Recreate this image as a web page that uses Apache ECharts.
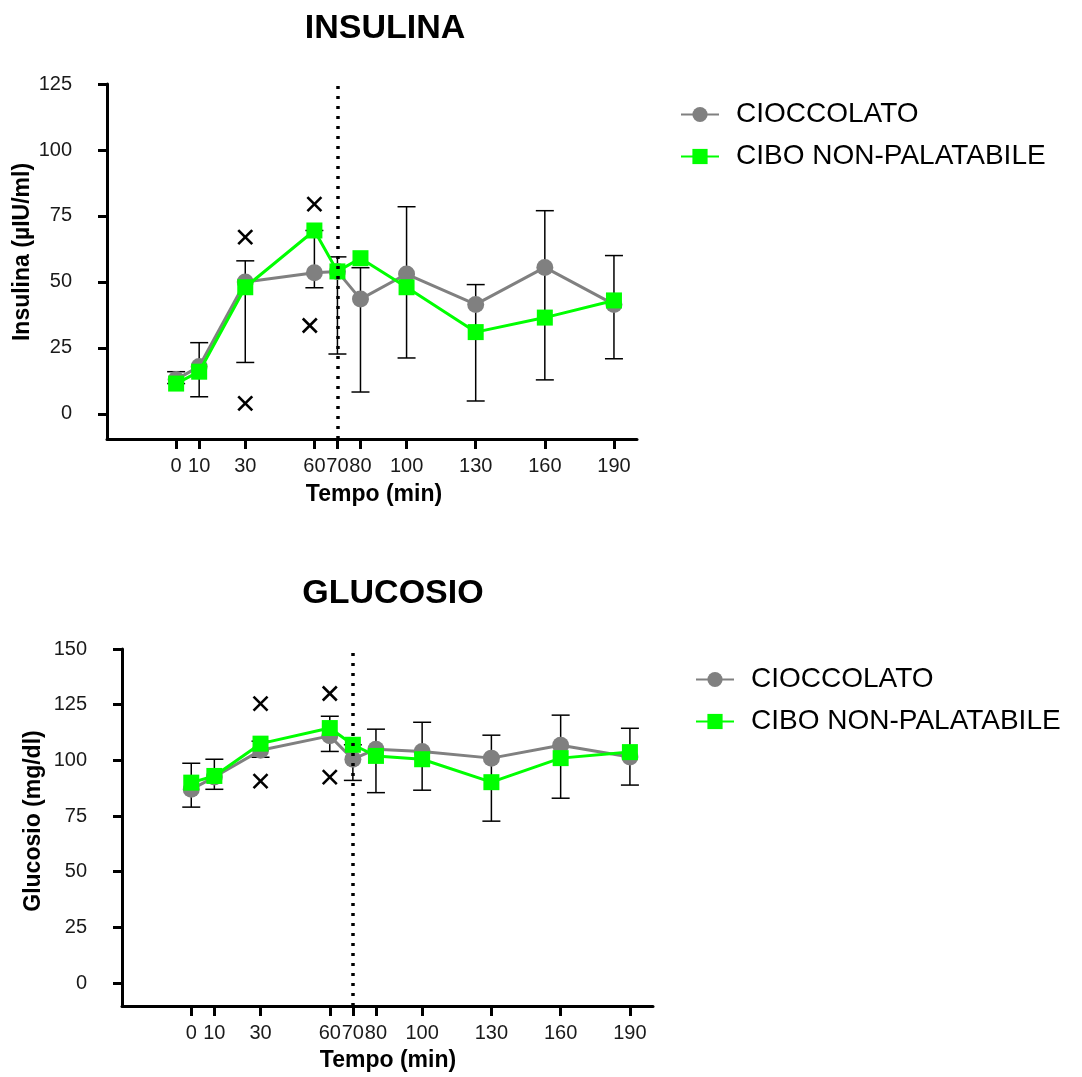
<!DOCTYPE html>
<html>
<head>
<meta charset="utf-8">
<title>Insulina e Glucosio</title>
<script src="https://cdn.jsdelivr.net/npm/echarts@6/dist/echarts.min.js"></script>
<style>
  html, body { margin: 0; padding: 0; background: #fff; }
  #chart { width: 1082px; height: 1077px; }
</style>
</head>
<body>
<div id="chart"></div>
<script>
// Sampling times (min)
const times = [0, 10, 30, 60, 70, 80, 100, 130, 160, 190];
const seriesNames = ['CIOCCOLATO', 'CIBO NON-PALATABILE'];

// Insulina (µIU/ml)
const insCioccolato = [13, 18, 50, 53.5, 54, 43.5, 53, 41.5, 55.5, 41.5];
const insCibo = [11.5, 16, 48, 69.5, 54, 59, 48, 31, 36.5, 43];
const insErrLow = [11.5, 6.5, 19.5, 47.8, 22.7, 8.3, 21.2, 4.9, 12.9, 20.9];
const insErrHigh = [16, 27, 58, 69.5, 59.5, 55.4, 78.5, 49, 77, 60];
const insMarksX = [30, 30, 60, 58];
const insMarksY = [67, 4, 79.5, 33.5];
const insTicks = [0, 25, 50, 75, 100, 125];

// Glucosio (mg/dl)
const gluCioccolato = [87, 92.5, 104.5, 111, 100.5, 105, 104, 101, 106.8, 101.5];
const gluCibo = [90, 93, 107.5, 114.5, 107, 102, 100.5, 90.2, 101, 103.7];
const gluErrLow = [79, 87, 101.4, 104, 91, 85.5, 86.6, 72.7, 83, 88.9];
const gluErrHigh = [98.7, 100.5, 108.6, 119.8, 107, 114, 117.1, 111.3, 120.3, 114.4];
const gluMarksX = [30, 30, 60, 60];
const gluMarksY = [125.5, 90.7, 130, 92.5];
const gluTicks = [0, 25, 50, 75, 100, 125, 150];

// Time of the meal switch
const switchTime = 70;

const FONT = '"Liberation Sans", Arial, Helvetica, sans-serif';
const GRAY = '#808080';
const GREEN = '#00ff00';

const zip = (xs, ys) => xs.map((x, i) => [x, ys[i]]);
const zip3 = (xs, a, b) => xs.map((x, i) => [x, a[i], b[i]]);

function errorBarSeries(gi, data) {
  return {
    type: 'custom', xAxisIndex: gi, yAxisIndex: gi, z: 1, silent: true,
    data: data,
    renderItem: function (params, api) {
      const x = api.value(0);
      const lo = api.coord([x, api.value(1)]);
      const hi = api.coord([x, api.value(2)]);
      const w = 9;
      const st = { stroke: '#000', lineWidth: 1.5 };
      return {
        type: 'group',
        children: [
          { type: 'line', shape: { x1: lo[0], y1: lo[1], x2: hi[0], y2: hi[1] }, style: st },
          { type: 'line', shape: { x1: lo[0] - w, y1: lo[1], x2: lo[0] + w, y2: lo[1] }, style: st },
          { type: 'line', shape: { x1: hi[0] - w, y1: hi[1], x2: hi[0] + w, y2: hi[1] }, style: st }
        ]
      };
    }
  };
}

function crossSeries(gi, data) {
  return {
    type: 'custom', xAxisIndex: gi, yAxisIndex: gi, z: 4, silent: true,
    data: data,
    renderItem: function (params, api) {
      const p = api.coord([api.value(0), api.value(1)]);
      const h = 7;
      const st = { stroke: '#000', lineWidth: 2.6 };
      return {
        type: 'group',
        children: [
          { type: 'line', shape: { x1: p[0] - h, y1: p[1] - h, x2: p[0] + h, y2: p[1] + h }, style: st },
          { type: 'line', shape: { x1: p[0] - h, y1: p[1] + h, x2: p[0] + h, y2: p[1] - h }, style: st }
        ]
      };
    }
  };
}

function lineSeries(gi, name, data, color, symbol, withSwitch) {
  const s = {
    type: 'line', name: name, xAxisIndex: gi, yAxisIndex: gi,
    data: data, z: name === seriesNames[0] ? 2 : 3,
    symbol: symbol, symbolSize: symbol === 'rect' ? 16 : 17,
    lineStyle: { color: color, width: 3 },
    itemStyle: { color: color, borderWidth: 0 },
    emphasis: { disabled: true }
  };
  if (withSwitch) {
    s.markLine = {
      silent: true, symbol: 'none', label: { show: false },
      lineStyle: { color: '#000', width: 3.5, type: [3, 7], cap: 'butt' },
      data: [{ xAxis: switchTime }]
    };
  }
  return s;
}

function xAxisCfg(gi) {
  return {
    gridIndex: gi, type: 'value', min: -30, max: 200,
    axisLine: { show: true, onZero: false, lineStyle: { color: '#000', width: 3 } },
    axisTick: { show: true, customValues: times, length: 10, lineStyle: { color: '#000', width: 3 } },
    axisLabel: { customValues: times, margin: 17, color: '#1a1a1a', fontSize: 20, fontFamily: FONT },
    splitLine: { show: false }
  };
}

function yAxisCfg(gi, min, max, ticks) {
  return {
    gridIndex: gi, type: 'value', min: min, max: max,
    axisLine: { show: true, onZero: false, lineStyle: { color: '#000', width: 3 } },
    axisTick: { show: true, customValues: ticks, length: 9, lineStyle: { color: '#000', width: 3 } },
    axisLabel: { customValues: ticks, margin: 35, color: '#1a1a1a', fontSize: 20, fontFamily: FONT,
                 padding: [0, 0, 8, 0] },
    splitLine: { show: false }
  };
}

function legendCfg(left, top) {
  return {
    left: left, top: top, orient: 'vertical',
    data: seriesNames, itemWidth: 38, itemHeight: 19, itemGap: 13,
    selectedMode: false,
    textStyle: { fontSize: 28, fontFamily: FONT, color: '#000', lineHeight: 29, padding: [0, 0, 0, 12] }
  };
}

function label(text, x, y, size, rot) {
  return {
    type: 'text', x: x, y: y, rotation: rot || 0, silent: true,
    style: { text: text, font: 'bold ' + size + 'px ' + FONT, fill: '#000',
             textAlign: 'center', textVerticalAlign: 'middle' }
  };
}

const chart = echarts.init(document.getElementById('chart'), null, { renderer: 'canvas' });
chart.setOption({
  animation: false,
  backgroundColor: '#fff',
  grid: [
    { left: 107, top: 84, width: 530, height: 355, outerBoundsMode: 'none' },
    { left: 122, top: 649, width: 531, height: 357, outerBoundsMode: 'none' }
  ],
  xAxis: [xAxisCfg(0), xAxisCfg(1)],
  yAxis: [yAxisCfg(0, -9.5, 125, insTicks), yAxisCfg(1, -10.3, 150, gluTicks)],
  legend: [legendCfg(675, 95), legendCfg(690, 660)],
  graphic: [
    label('INSULINA', 385, 29, 34),
    label('Tempo (min)', 374, 495, 23),
    label('Insulina (µIU/ml)', 23, 252, 23, Math.PI / 2),
    label('GLUCOSIO', 393, 594, 34),
    label('Tempo (min)', 388, 1061, 23),
    label('Glucosio (mg/dl)', 34, 821, 23, Math.PI / 2)
  ],
  series: [
    errorBarSeries(0, zip3(times, insErrLow, insErrHigh)),
    lineSeries(0, seriesNames[0], zip(times, insCioccolato), GRAY, 'circle', true),
    lineSeries(0, seriesNames[1], zip(times, insCibo), GREEN, 'rect', false),
    crossSeries(0, zip(insMarksX, insMarksY)),

    errorBarSeries(1, zip3(times, gluErrLow, gluErrHigh)),
    lineSeries(1, seriesNames[0], zip(times, gluCioccolato), GRAY, 'circle', true),
    lineSeries(1, seriesNames[1], zip(times, gluCibo), GREEN, 'rect', false),
    crossSeries(1, zip(gluMarksX, gluMarksY))
  ]
});
</script>
</body>
</html>
